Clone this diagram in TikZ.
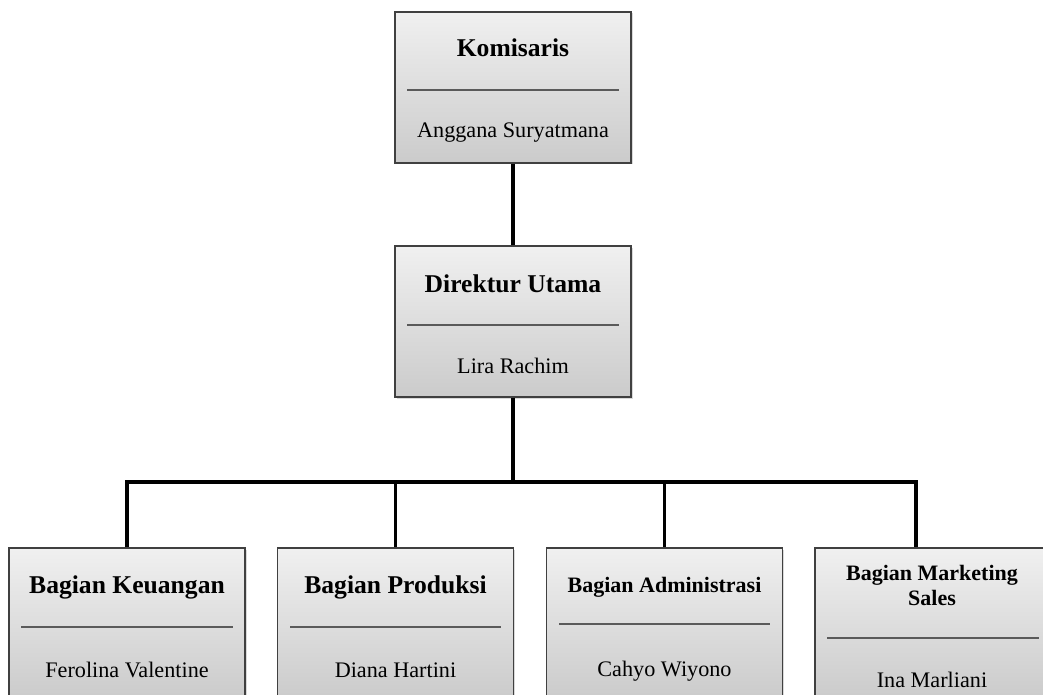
\documentclass[tikz,border=0pt]{standalone}
\usepackage{fontspec}
\setmainfont{Liberation Serif}
\usetikzlibrary{shadows}
\definecolor{boxtop}{HTML}{F0F0F0}
\definecolor{boxbot}{HTML}{CBCBCB}
\definecolor{edge}{HTML}{404040}
\definecolor{sepc}{HTML}{5A5A5A}
\begin{document}
\begin{tikzpicture}[x=1pt,y=-1pt,
  box/.style={draw=edge, line width=1.4pt, top color=boxtop, bottom color=boxbot,
    minimum width=236pt, minimum height=151pt, inner sep=0pt,
    drop shadow={shadow xshift=1.5pt,shadow yshift=-1.5pt,opacity=0.3}},
  title/.style={anchor=base, inner sep=0pt, font=\fontsize{25.6}{28}\selectfont\bfseries},
  smalltitle/.style={anchor=base, inner sep=0pt, font=\fontsize{22}{24}\selectfont\bfseries},
  person/.style={anchor=base, inner sep=0pt, font=\fontsize{22.2}{26}\selectfont},
  sepline/.style={draw=sepc, line width=2pt},
  conn/.style={draw=black, line width=3.2pt, line join=miter}]
\useasboundingbox (0,0) rectangle (1043,695);
\clip (0,0) rectangle (1043,695);

% boxes
\node[box] (kom) at (513,87.5) {};
\node[box] (dir) at (513,321.5) {};
\node[box] (keu) at (127,623.5) {};
\node[box] (pro) at (395.5,623.5) {};
\node[box] (adm) at (664.5,623.5) {};
\node[box] (mkt) at (933,623.5) {};

% texts
\node[title] (komT) at (513,57) {Komisaris};
\node[person] (komN) at (513,138) {Anggana Suryatmana};
\node[title] (dirT) at (513,292) {Direktur Utama};
\node[person] (dirN) at (513,373) {Lira Rachim};
\node[title] (keuT) at (127,593) {Bagian Keuangan};
\node[person] (keuN) at (127,677) {Ferolina Valentine};
\node[title] (proT) at (395.5,593) {Bagian Produksi};
\node[person] (proN) at (395.5,677) {Diana Hartini};
\node[smalltitle] (admT) at (664.5,592) {Bagian Administrasi};
\node[person] (admN) at (664.5,676) {Cahyo Wiyono};
\node[smalltitle] (mktT) at (932,580) {Bagian Marketing};
\node[smalltitle] (mktT2) at (932,605) {Sales};
\node[person] (mktN) at (932,687) {Ina Marliani};

% separators
\draw[sepline] (407,90) -- (619,90);
\draw[sepline] (407,325) -- (619,325);
\draw[sepline] (21,627) -- (233,627);
\draw[sepline] (290,627) -- (501,627);
\draw[sepline] (559,624) -- (770,624);
\draw[sepline] (827,638) -- (1039,638);

% connectors
\coordinate (bus) at (513,482);
\coordinate (j1) at (127,482);
\coordinate (j2) at (395.5,482);
\coordinate (j3) at (664.5,482);
\coordinate (j4) at (916,482);
\draw[conn] (kom.south) -- (dir.north);
\draw[conn] (dir.south) -- (bus);
\draw[conn] (keu.north) -- (j1) -- (j4) -- (j4 |- mkt.north);
\draw[conn] (j2) -- (pro.north);
\draw[conn] (j3) -- (adm.north);
\end{tikzpicture}
\end{document}
